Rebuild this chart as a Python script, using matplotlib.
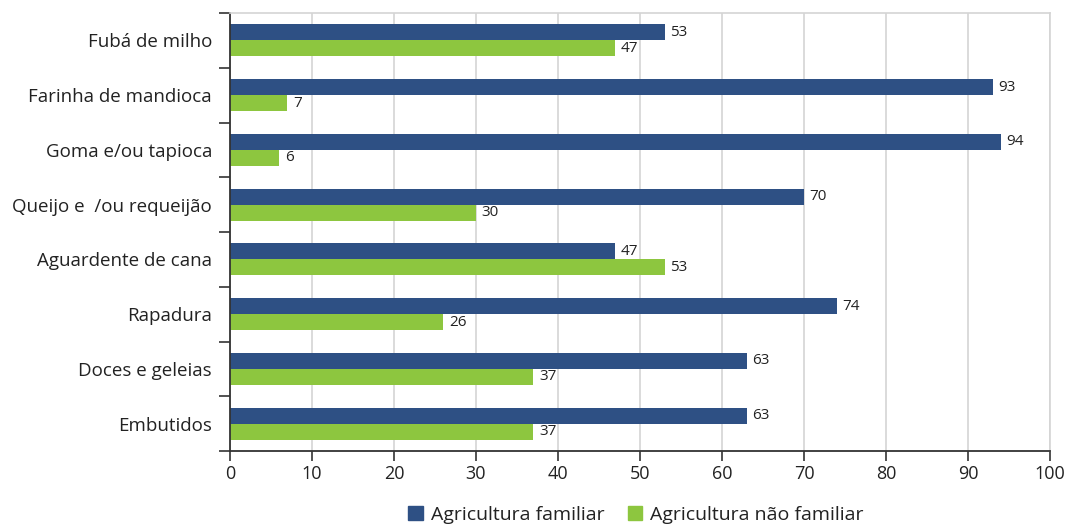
import numpy as np
import matplotlib
matplotlib.use('Agg')
from matplotlib import pyplot as plt
from matplotlib.patches import Patch

categories = ['Fubá de milho', 'Farinha de mandioca', 'Goma e/ou tapioca',
              'Queijo e  /ou requeijão', 'Aguardente de cana', 'Rapadura',
              'Doces e geleias', 'Embutidos']
familiar = [53, 93, 94, 70, 47, 74, 63, 63]
nao_familiar = [47, 7, 6, 30, 53, 26, 37, 37]
series_names = ['Agricultura familiar', 'Agricultura não familiar']

BLUE = '#2e5084'
GREEN = '#8dc63f'

plt.rcParams['font.family'] = ['Open Sans', 'DejaVu Sans']

fig = plt.figure(figsize=(10.67, 5.31), dpi=100)
ax = fig.add_axes([230/1067, 80/531, 820/1067, 438/531])

y = np.arange(len(categories))
h = 0.29
ax.barh(y - h/2, familiar, height=h, color=BLUE)
ax.barh(y + h/2, nao_familiar, height=h, color=GREEN)

for i in range(len(categories)):
    ax.annotate(str(familiar[i]), (familiar[i], y[i] - h/2), xytext=(4, 0),
                textcoords='offset points', va='center', ha='left',
                fontsize=11, color='#222222')
    ax.annotate(str(nao_familiar[i]), (nao_familiar[i], y[i] + h/2), xytext=(4, 0),
                textcoords='offset points', va='center', ha='left',
                fontsize=11, color='#222222')

ax.set_xlim(0, 100)
ax.set_ylim(len(categories) - 0.5, -0.5)
ax.set_xticks(np.arange(0, 101, 10))
ax.tick_params(axis='x', labelsize=13, length=7, width=1.2, color='#333333',
               labelcolor='#222222', pad=3)

# category labels centered, ticks at the boundaries
ax.set_yticks(np.arange(-0.5, len(categories)), minor=False)
ax.set_yticklabels([])
ax.set_yticks(y, minor=True)
ax.set_yticklabels(categories, minor=True)
ax.tick_params(axis='y', which='major', length=8, width=1.2, color='#333333')
ax.tick_params(axis='y', which='minor', length=0, labelsize=13.5,
               labelcolor='#222222', pad=13)

ax.grid(axis='x', color='#d4d4d4', linewidth=1.2)
ax.set_axisbelow(True)
ax.spines['left'].set_color('#333333')
ax.spines['bottom'].set_color('#333333')
ax.spines['left'].set_linewidth(1.3)
ax.spines['bottom'].set_linewidth(1.3)
ax.spines['top'].set_color('#d4d4d4')
ax.spines['right'].set_color('#d4d4d4')
ax.spines['top'].set_linewidth(1.2)
ax.spines['right'].set_linewidth(1.2)

handles = [Patch(color=BLUE), Patch(color=GREEN)]
fig.legend(handles, series_names, loc='center', bbox_to_anchor=(0.596, 0.03),
           ncol=2, frameon=False, fontsize=14, handlelength=0.75,
           handleheight=0.75, handletextpad=0.4, columnspacing=1.2,
           labelcolor='#222222', borderpad=0)

fig.savefig('out.png', dpi=100)
